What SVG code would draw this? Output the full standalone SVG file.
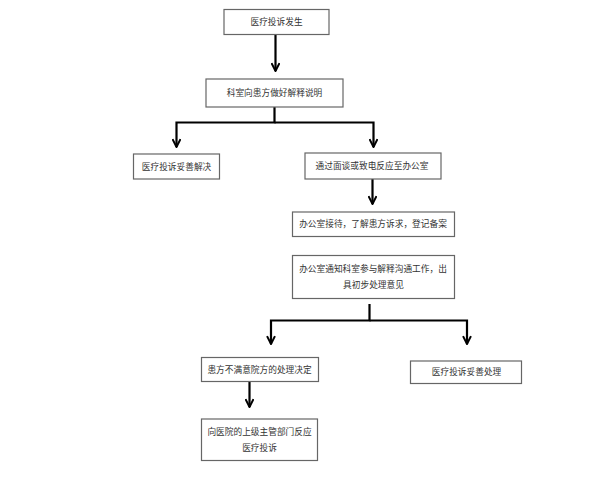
<svg xmlns="http://www.w3.org/2000/svg" width="612" height="490" viewBox="0 0 612 490">
<defs>
<style>
.box{fill:#fff;stroke:#666;stroke-width:1.2}
.t{font-family:"Noto Sans CJK SC","Noto Sans",sans-serif;font-size:8.7px;fill:#333;text-anchor:middle}
.ln{fill:none;stroke:#000;stroke-width:2.2}
</style>
<marker id="ah" viewBox="0 0 10 10" refX="9" refY="5" markerWidth="4.5" markerHeight="4.5" orient="auto" markerUnits="strokeWidth">
<path d="M1,1 L9,5 L1,9" fill="none" stroke="#000" stroke-width="2"/>
</marker>
</defs>
<rect width="612" height="490" fill="#fff"/>
<g id="connectors">
<line class="ln" x1="275.5" y1="34" x2="275.5" y2="71" marker-end="url(#ah)"/>
<polyline class="ln" points="274.5,107 274.5,122.5 176.5,122.5 176.5,147" marker-end="url(#ah)"/>
<polyline class="ln" points="274.5,122.5 373.5,122.5 373.5,147" marker-end="url(#ah)"/>
<line class="ln" x1="372.5" y1="179" x2="372.5" y2="204" marker-end="url(#ah)"/>
<polyline class="ln" points="369.5,304 369.5,320.5 271,320.5 271,344" marker-end="url(#ah)"/>
<polyline class="ln" points="369.5,320.5 467,320.5 467,344" marker-end="url(#ah)"/>
<line class="ln" x1="249.5" y1="382" x2="249.5" y2="407" marker-end="url(#ah)"/>
</g>
<g id="n1"><rect class="box" x="224" y="9.5" width="105" height="25"/><text class="t" x="276.5" y="25.2">医疗投诉发生</text></g>
<g id="n2"><rect class="box" x="206" y="79" width="137" height="28"/><text class="t" x="274.5" y="96.2">科室向患方做好解释说明</text></g>
<g id="n3"><rect class="box" x="133.5" y="154" width="86" height="25"/><text class="t" x="176.5" y="169.7">医疗投诉妥善解决</text></g>
<g id="n4"><rect class="box" x="305" y="153" width="136" height="26"/><text class="t" x="372" y="169.2">通过面谈或致电反应至办公室</text></g>
<g id="n5"><rect class="box" x="292.5" y="212" width="162" height="24.5"/><text class="t" x="373" y="227.3">办公室接待，了解患方诉求，登记备案</text></g>
<g id="n6"><rect class="box" x="292.5" y="255.5" width="162" height="43"/><text class="t" x="373" y="272">办公室通知科室参与解释沟通工作，出</text><text class="t" x="373.5" y="288">具初步处理意见</text></g>
<g id="n7"><rect class="box" x="201.5" y="357.5" width="117" height="24"/><text class="t" x="259.5" y="372.8">患方不满意院方的处理决定</text></g>
<g id="n8"><rect class="box" x="410.5" y="361" width="111" height="22.5"/><text class="t" x="466.5" y="375.3">医疗投诉妥善处理</text></g>
<g id="n9"><rect class="box" x="201.5" y="419" width="116" height="41.5"/><text class="t" x="259.5" y="435">向医院的上级主管部门反应</text><text class="t" x="259.5" y="451">医疗投诉</text></g>
</svg>
